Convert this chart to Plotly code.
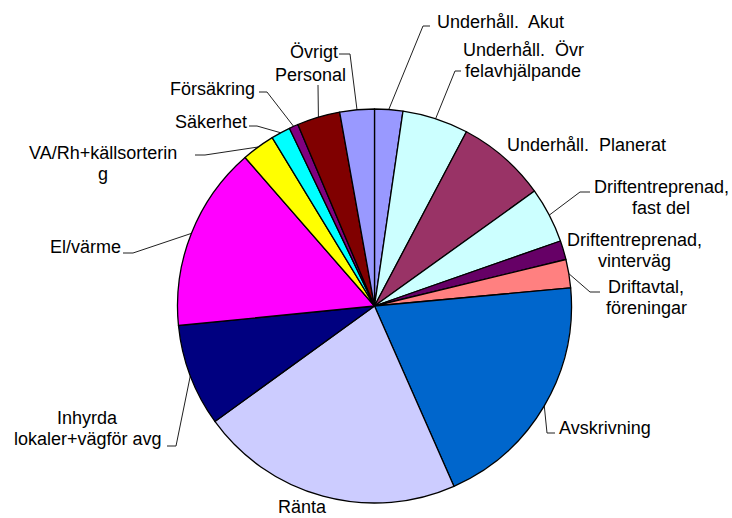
import math
import plotly.graph_objects as go

# ---- data ----
categories = [
    "Underhåll. Akut", "Underhåll. Övr felavhjälpande", "Underhåll. Planerat",
    "Driftentreprenad, fast del", "Driftentreprenad, vinterväg", "Driftavtal, föreningar",
    "Avskrivning", "Ränta", "Inhyrda lokaler+vägför avg", "El/värme",
    "VA/Rh+källsortering", "Säkerhet", "Försäkring", "Personal", "Övrigt",
]
values = [2.31, 5.42, 7.36, 4.56, 1.56, 2.33, 19.86, 21.64, 8.39, 15.17,
          2.72, 1.58, 0.75, 3.53, 2.83]
label_lines = [
    ["Underhåll.\u00a0 Akut"],
    ["Underhåll.\u00a0 Övr", "felavhjälpande"],
    ["Underhåll.\u00a0 Planerat"],
    ["Driftentreprenad,", "fast del"],
    ["Driftentreprenad,", "vinterväg"],
    ["Driftavtal,", "föreningar"],
    ["Avskrivning"],
    ["Ränta"],
    ["Inhyrda", "lokaler+vägför avg"],
    ["El/värme"],
    ["VA/Rh+källsorterin", "g"],
    ["Säkerhet"],
    ["Försäkring"],
    ["Personal"],
    ["Övrigt"],
]

# ---- styles / layout ----
colors = ["#9999FF", "#CCFFFF", "#993366", "#CCFFFF", "#660066", "#FF8080",
          "#0066CC", "#CCCCFF", "#000080", "#FF00FF", "#FFFF00", "#00FFFF",
          "#800080", "#800000", "#9999FF"]

W, H = 732, 518
CX, CY, R = 374.5, 306.0, 197.0
FONT = dict(family="Liberation Sans, Arial, sans-serif", size=18, color="black")
LINE_H = 20.5

# label placement: (x, first-line y, xanchor), leader elbow points (pixel)
label_pos = [
    (435, 22, "left"), (523, 50, "center"), (505, 145, "left"),
    (661, 187, "center"), (634, 240, "center"), (646, 287, "center"),
    (557, 428, "left"), (276, 507, "left"), (87.5, 418, "center"),
    (48, 247, "left"), (102.5, 153, "center"), (173, 122, "left"),
    (168, 89, "left"), (273, 75, "left"), (288, 52, "left"),
]
leader_pts = [
    [(423, 26), (430, 26)], [(455, 71), (461, 71)], None,
    [(580, 192), (590, 192)], None, [(590, 292), (600, 292)],
    [(547, 433), (555, 433)], None, [(176, 446), (167, 446)],
    [(133, 253), (123, 253)], [(205, 155), (195, 155)], [(257, 126), (249, 126)],
    [(267, 92), (259, 92)], [(318, 85)], [(350, 54), (339, 54)],
]

fig = go.Figure()
fig.add_trace(go.Pie(
    labels=categories, values=values, sort=False, direction="clockwise",
    rotation=0, marker=dict(colors=colors, line=dict(color="black", width=1.3)),
    textinfo="none", hoverinfo="label+percent", showlegend=False,
    domain=dict(x=[(CX - R) / W, (CX + R) / W],
                y=[(H - CY - R) / H, (H - CY + R) / H]),
))

# leader lines, anchored at the slice mid-angle on the rim
total = sum(values)
cum = 0.0
for i, v in enumerate(values):
    mid = (cum + v / 2) / total * 2 * math.pi
    cum += v
    pts = leader_pts[i]
    if pts:
        ax = CX + R * math.sin(mid)
        ay = CY - R * math.cos(mid)
        xs = [ax] + [p[0] for p in pts]
        ys = [ay] + [p[1] for p in pts]
        fig.add_trace(go.Scatter(x=xs, y=ys, mode="lines",
                                 line=dict(color="#202020", width=1),
                                 hoverinfo="skip", showlegend=False))
    x0, y0, anc = label_pos[i]
    for k, txt in enumerate(label_lines[i]):
        fig.add_annotation(x=x0, y=y0 + k * LINE_H, text=txt, showarrow=False,
                           xref="x", yref="y", xanchor=anc, yanchor="middle",
                           font=FONT)

fig.update_layout(
    width=W, height=H, margin=dict(l=0, r=0, t=0, b=0),
    paper_bgcolor="white", plot_bgcolor="rgba(0,0,0,0)",
    xaxis=dict(range=[0, W], visible=False, fixedrange=True),
    yaxis=dict(range=[H, 0], visible=False, fixedrange=True),
)
fig.write_html("out.html", config={"displayModeBar": False},
               post_script="document.body.style.margin='0';document.body.style.overflow='hidden';")
